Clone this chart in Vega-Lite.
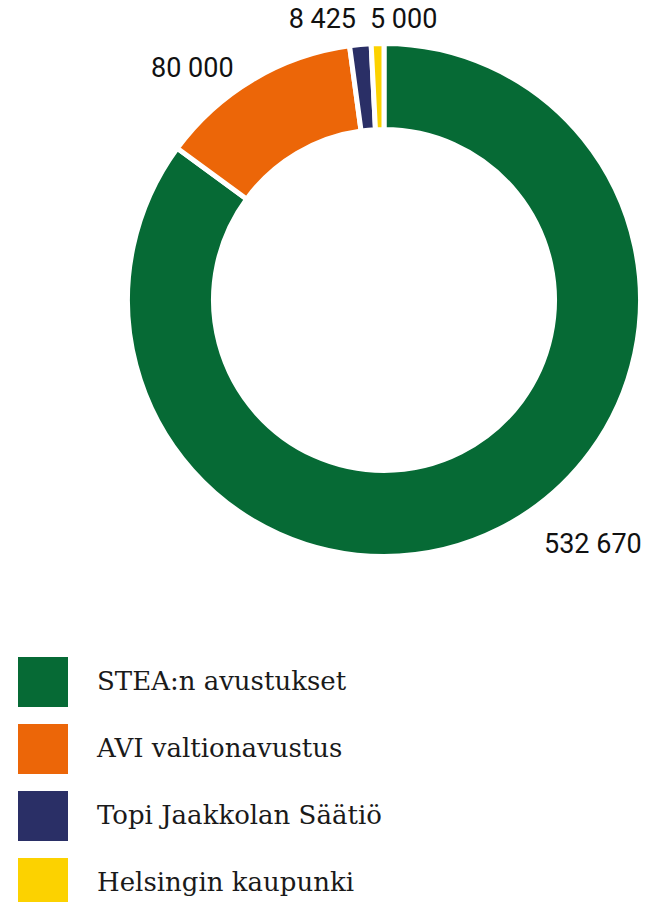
{
  "$schema": "https://vega.github.io/schema/vega-lite/v6.json",
  "width": 510,
  "height": 510,
  "autosize": {"type": "none"},
  "padding": {"left": 129, "top": 45, "right": 6, "bottom": 347},
  "background": "white",
  "data": {
    "values": [
      {"nro": 1, "lahde": "STEA:n avustukset", "summa": 532670, "teksti": "532 670"},
      {"nro": 2, "lahde": "AVI valtionavustus", "summa": 80000, "teksti": "80 000"},
      {"nro": 3, "lahde": "Topi Jaakkolan Säätiö", "summa": 8425, "teksti": "8 425"},
      {"nro": 4, "lahde": "Helsingin kaupunki", "summa": 5000, "teksti": "5 000"}
    ]
  },
  "encoding": {
    "theta": {"field": "summa", "type": "quantitative", "stack": true},
    "order": {"field": "nro", "type": "quantitative"}
  },
  "layer": [
    {
      "mark": {"type": "arc", "outerRadius": 256.5, "innerRadius": 170.5, "stroke": "white", "strokeWidth": 5},
      "encoding": {
        "color": {
          "field": "lahde",
          "type": "nominal",
          "sort": null,
          "scale": {
            "domain": ["STEA:n avustukset", "AVI valtionavustus", "Topi Jaakkolan Säätiö", "Helsingin kaupunki"],
            "range": ["#066a35", "#ec6608", "#2a2f66", "#fcd200"]
          },
          "legend": {
            "title": null,
            "orient": "none",
            "legendX": -111,
            "legendY": 612,
            "symbolType": "square",
            "symbolSize": 2500,
            "symbolStrokeWidth": 0,
            "symbolOpacity": 1,
            "labelFont": "DejaVu Serif",
            "labelFontSize": 26,
            "labelColor": "#1a1a1a",
            "labelLimit": 500,
            "labelOffset": 29,
            "rowPadding": 17,
            "padding": 0
          }
        }
      }
    },
    {
      "mark": {"type": "text", "radius": 274.5, "align": "left", "baseline": "middle", "dx": 36, "font": "Roboto", "fontSize": 27, "color": "#111111"},
      "encoding": {"text": {"condition": {"test": "datum.nro == 1", "field": "teksti"}, "value": ""}}
    },
    {
      "mark": {"type": "text", "radius": 269, "align": "right", "baseline": "middle", "dx": -13, "font": "Roboto", "fontSize": 27, "color": "#111111"},
      "encoding": {"text": {"condition": {"test": "datum.nro == 2", "field": "teksti"}, "value": ""}}
    },
    {
      "mark": {"type": "text", "radius": 281, "align": "right", "baseline": "middle", "dx": -2, "font": "Roboto", "fontSize": 27, "color": "#111111"},
      "encoding": {"text": {"condition": {"test": "datum.nro == 3", "field": "teksti"}, "value": ""}}
    },
    {
      "mark": {"type": "text", "radius": 280, "align": "left", "baseline": "middle", "dx": -7, "font": "Roboto", "fontSize": 27, "color": "#111111"},
      "encoding": {"text": {"condition": {"test": "datum.nro == 4", "field": "teksti"}, "value": ""}}
    }
  ],
  "config": {"view": {"stroke": null}}
}
